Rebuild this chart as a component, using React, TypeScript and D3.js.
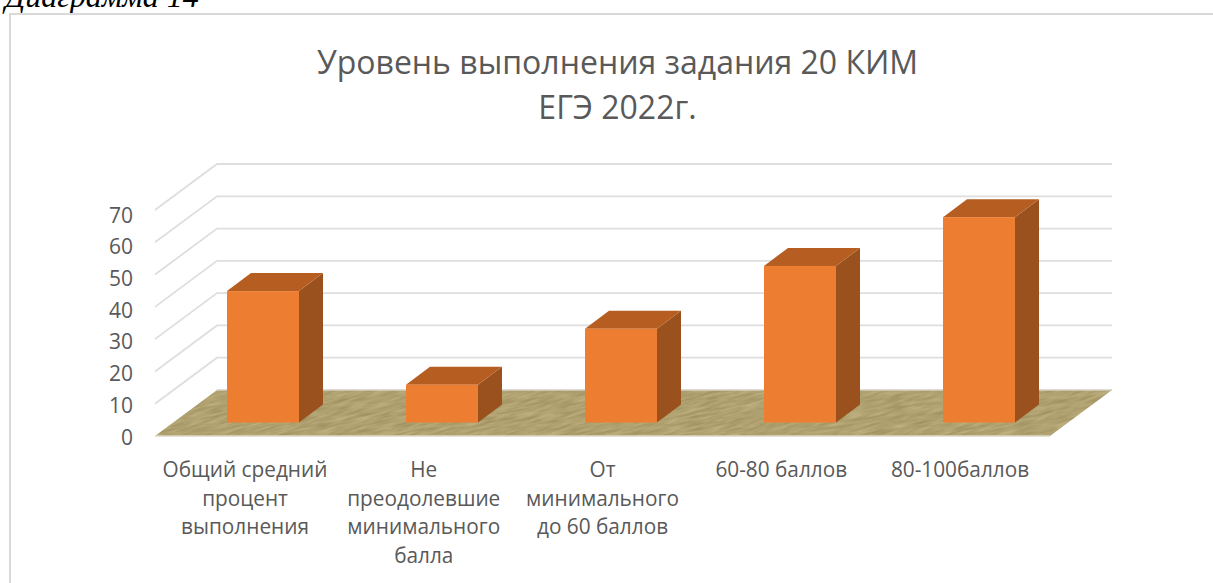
import React from "react";
import * as d3 from "d3";

const categories = [
  ["Общий средний", "процент", "выполнения"],
  ["Не", "преодолевшие", "минимального", "балла"],
  ["От", "минимального", "до 60 баллов"],
  ["60-80 баллов"],
  ["80-100баллов"],
];
const values = [40.7, 11.7, 29, 48.5, 63.6];
const yTicks = [0, 10, 20, 30, 40, 50, 60, 70];
const titleLines = ["Уровень выполнения задания 20 КИМ", "ЕГЭ 2022г."];
const font = "'Open Sans','Noto Sans',sans-serif";

export default function App() {
  const yBack = d3.scaleLinear().domain([0, 70]).range([390, 164]);
  const yLabel = d3.scaleLinear().domain([0, 70]).range([444.5, 222.7]);
  const depthX = 62;
  const depthY = 46;
  const bw = 72;
  const xLeft = d3.scaleLinear().domain([0, 4]).range([227, 943]);
  const xText = d3.scaleLinear().domain([0, 4]).range([245, 960]);
  const barBottom = 422.5;
  const barDX = 24;
  const barDY = 18;
  const h = (v: number) => yBack(0) - yBack(v);
  const floor = `M155 ${yBack(0) + depthY}L${155 + depthX} ${yBack(0)}H1112L1050 ${yBack(0) + depthY}Z`;
  return (
    <svg width={1213} height={583} style={{ position: "absolute", left: 0, top: 0, background: "#fff" }}>
      <defs>
        <filter id="wood" x="0" y="0" width="100%" height="100%" colorInterpolationFilters="sRGB">
          <feTurbulence type="fractalNoise" baseFrequency="0.05 0.4" numOctaves={3} seed={7} />
          <feColorMatrix type="matrix" values="0.2 0 0 0 0.59  0.2 0 0 0 0.53  0.2 0 0 0 0.34  0 0 0 0 1" />
          <feGaussianBlur stdDeviation="0.5" />
        </filter>
        <clipPath id="floorClip"><path d={floor} /></clipPath>
      </defs>
      <text x={5} y={7} fontFamily="'Liberation Serif',serif" fontStyle="italic" fontSize={32} fill="#000">Диаграмма 14</text>
      <path d="M10 583V14H1213" fill="none" stroke="#d9d9d9" strokeWidth={2} />
      {titleLines.map((t, i) => (
        <text key={t} x={617.5} y={73.5 + i * 45.5} textAnchor="middle" fontFamily={font} fontSize={32} fill="#595959">{t}</text>
      ))}
      {yTicks.slice(1).map((t) => (
        <path key={t} d={`M${155} ${yBack(t) + depthY}L${155 + depthX} ${yBack(t)}H1112`} fill="none" stroke="#dedede" strokeWidth={1.8} />
      ))}
      <g clipPath="url(#floorClip)">
        <g transform="rotate(-14 630 413)">
          <rect x={100} y={220} width={1060} height={380} fill="#b0a070" filter="url(#wood)" />
        </g>
      </g>
      <path d={`M155 ${yBack(0) + depthY}H1050`} stroke="#dcd8c6" strokeWidth={1.5} fill="none" />
      <path d={`M${155 + depthX} ${yBack(0)}H1112`} stroke="#d2cfc4" strokeWidth={1.5} fill="none" />
      {yTicks.map((t) => (
        <text key={t} x={133} y={yLabel(t)} textAnchor="end" fontFamily={font} fontSize={21} fill="#595959">{t}</text>
      ))}
      {values.map((v, i) => {
        const x0 = xLeft(i);
        const x1 = x0 + bw;
        const top = barBottom - h(v);
        return (
          <g key={i}>
            <path d={`M${x1} ${barBottom}V${top}l${barDX} ${-barDY}V${barBottom - barDY}Z`} fill="#9a511d" />
            <path d={`M${x0} ${top}H${x1}l${barDX} ${-barDY}H${x0 + barDX}Z`} fill="#b65e21" />
            <rect x={x0} y={top} width={bw} height={h(v)} fill="#ed7d31" />
          </g>
        );
      })}
      {categories.map((lines, i) => lines.map((l, j) => (
        <text key={l} transform={`translate(${xText(i)},${477.3 + j * 28.4}) scale(0.945,1)`} textAnchor="middle" fontFamily={font} fontSize={22} fill="#595959">{l}</text>
      )))}
    </svg>
  );
}
